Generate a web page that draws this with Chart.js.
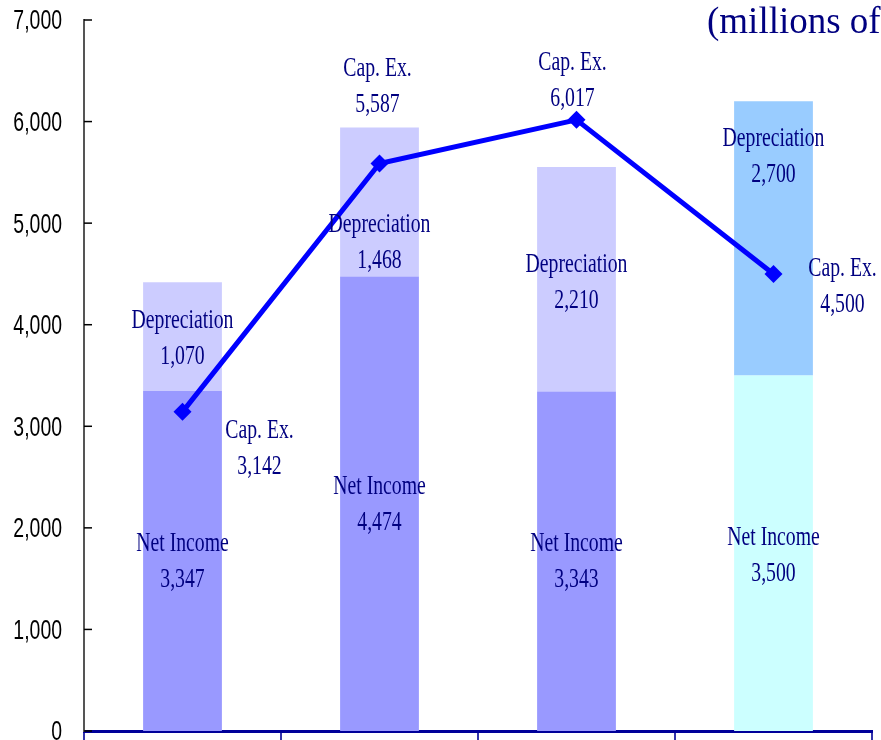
<!DOCTYPE html>
<html>
<head>
<meta charset="utf-8">
<script src="https://cdn.jsdelivr.net/npm/chart.js@4.4.1/dist/chart.umd.min.js"></script>
<style>
  html, body { margin: 0; padding: 0; background: #fff; }
  #wrap { width: 881px; height: 740px; }
</style>
</head>
<body>
<div id="wrap"><canvas id="chart"></canvas></div>
<script>
// values
const categories = ['1', '2', '3', '4'];
const netIncome = [3347, 4474, 3343, 3500];
const depreciation = [1070, 1468, 2210, 2700];
const capEx = [3142, 5587, 6017, 4500];
const yTicks = [0, 1000, 2000, 3000, 4000, 5000, 6000, 7000];

// label placement (pixel offsets from the segment centre / point)
const depOffset = [[0, 2], [0, 41], [0, 4], [0, -81]];
const netOffset = [[0, 1], [0, 1], [0, 1], [0, 3]];
const capOffset = [[77, 37], [-2, -77], [-4, -39], [69, 13]];

const NAVY = '#000080';

function squeezed(ctx, str, x, y, font, sx, align) {
  ctx.save();
  ctx.translate(x, y);
  ctx.scale(sx, 1);
  ctx.font = font;
  ctx.fillStyle = NAVY;
  ctx.textAlign = align || 'center';
  ctx.textBaseline = 'middle';
  ctx.fillText(str, 0, 0);
  ctx.restore();
}

const fmt = v => v.toLocaleString('en-US');

const labelPlugin = {
  id: 'labels',
  afterDatasetsDraw(chart) {
    const ctx = chart.ctx;
    const x = chart.scales.x, y = chart.scales.y;
    const font = '27px "Liberation Serif", "Times New Roman", serif';
    const sx = 0.73;

    // y axis tick labels and inward tick marks
    yTicks.forEach(v => {
      const py = y.getPixelForValue(v);
      ctx.save();
      ctx.translate(62, py + 2);
      ctx.scale(0.72, 1);
      ctx.font = '27px "Liberation Sans", Arial, sans-serif';
      ctx.fillStyle = '#000';
      ctx.textAlign = 'right';
      ctx.textBaseline = 'middle';
      ctx.fillText(fmt(v), 0, 0);
      ctx.restore();
      ctx.save();
      ctx.strokeStyle = '#000';
      ctx.lineWidth = 1.5;
      ctx.beginPath();
      ctx.moveTo(x.left, py);
      ctx.lineTo(x.left + 8, py);
      ctx.stroke();
      ctx.restore();
    });

    function group(title, value, cx, cy) {
      squeezed(ctx, title, cx, cy - 18, font, sx);
      squeezed(ctx, fmt(value), cx, cy + 18, font, sx);
    }

    categories.forEach((c, i) => {
      const cx = x.getPixelForValue(i);
      const netMid = y.getPixelForValue(netIncome[i] / 2);
      group('Net Income', netIncome[i], cx + netOffset[i][0], netMid + netOffset[i][1]);
      const depMid = y.getPixelForValue(netIncome[i] + depreciation[i] / 2);
      group('Depreciation', depreciation[i], cx + depOffset[i][0], depMid + depOffset[i][1]);
      const capY = y.getPixelForValue(capEx[i]);
      group('Cap. Ex.', capEx[i], cx + capOffset[i][0], capY + capOffset[i][1]);
    });

    // unit note, cut off at the right edge as in the source
    ctx.save();
    ctx.font = '37px "Liberation Serif", "Times New Roman", serif';
    ctx.fillStyle = NAVY;
    ctx.textAlign = 'left';
    ctx.textBaseline = 'alphabetic';
    ctx.fillText('(millions of', 707, 33);
    ctx.restore();
  }
};

new Chart(document.getElementById('chart'), {
  type: 'bar',
  data: {
    labels: categories,
    datasets: [
      {
        type: 'line',
        label: 'Cap. Ex.',
        data: capEx,
        borderColor: '#0000FF',
        backgroundColor: '#0000FF',
        borderWidth: 5,
        pointStyle: 'rectRot',
        pointRadius: 9,
        pointBorderWidth: 0,
        tension: 0,
        order: 0,
      },
      {
        label: 'Net Income',
        data: netIncome,
        backgroundColor: ['#9999FF', '#9999FF', '#9999FF', '#CCFFFF'],
        stack: 's',
        order: 1,
      },
      {
        label: 'Depreciation',
        data: depreciation,
        backgroundColor: ['#CCCCFF', '#CCCCFF', '#CCCCFF', '#99CCFF'],
        stack: 's',
        order: 1,
      },
    ],
  },
  options: {
    responsive: true,
    maintainAspectRatio: false,
    animation: false,
    datasets: {bar: {barPercentage: 0.4, categoryPercentage: 1}},
    layout: {padding: {top: 20, right: 5, left: 0, bottom: 0}},
    plugins: {
      legend: {display: false},
      tooltip: {enabled: false},
    },
    scales: {
      x: {
        stacked: true,
        offset: true,
        grid: {
          offset: true,
          display: true,
          drawOnChartArea: false,
          drawTicks: true,
          tickLength: 10,
          color: '#3333AA',
          lineWidth: 2,
        },
        border: {display: true, color: '#000099', width: 3},
        ticks: {display: false},
        afterFit(axis) { axis.height = 9; },
      },
      y: {
        stacked: true,
        min: 0,
        max: 7000,
        ticks: {display: false, stepSize: 1000},
        grid: {display: false, drawTicks: false},
        border: {display: true, color: '#555555', width: 2},
        afterFit(axis) { axis.width = 84; },
      },
    },
  },
  plugins: [labelPlugin],
});
</script>
</body>
</html>
